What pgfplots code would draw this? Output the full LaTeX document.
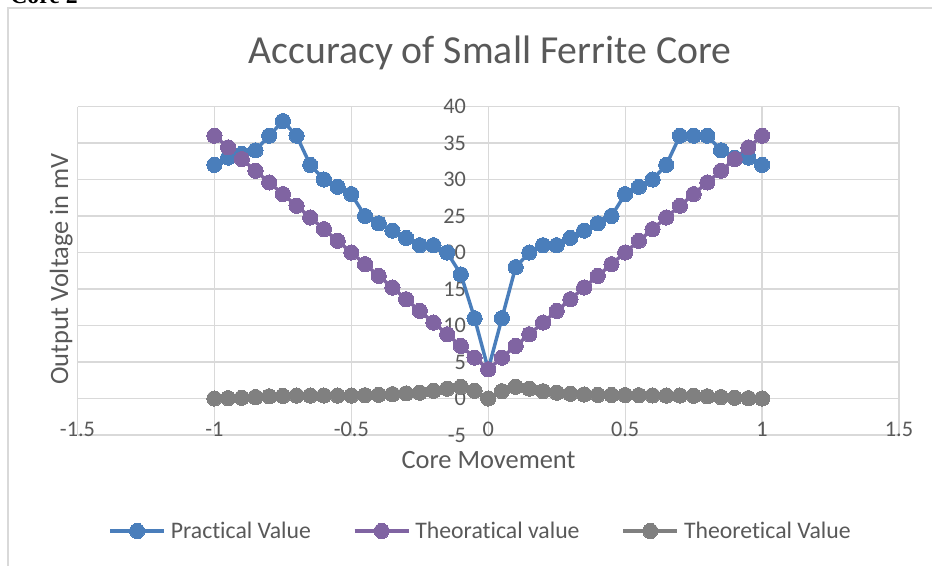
\documentclass[border=0pt]{standalone}
\usepackage{pgfplots}
\usepackage{pgfplotstable}
\pgfplotsset{compat=1.18}
\usepackage{fontspec}
\setmainfont[Ligatures=NoCommon, Contextuals=NoAlternate]{Carlito}
\newfontfamily\timesfont{Liberation Serif}
\definecolor{pblue}{HTML}{4A7EBB}
\definecolor{ppurple}{HTML}{8064A2}
\definecolor{pgray}{HTML}{808080}
\definecolor{gridc}{HTML}{D9D9D9}
\definecolor{txt}{HTML}{595959}

\pgfplotstableread{
x prac theo gray
-1 32 36 0
-0.95 33 34.4 0.05
-0.9 33.5 32.8 0.1
-0.85 34 31.2 0.2
-0.8 36 29.6 0.3
-0.75 38 28 0.35
-0.7 36 26.4 0.4
-0.65 32 24.8 0.4
-0.6 30 23.2 0.4
-0.55 29 21.6 0.4
-0.5 28 20 0.4
-0.45 25 18.4 0.45
-0.4 24 16.8 0.5
-0.35 23 15.2 0.6
-0.3 22 13.6 0.7
-0.25 21 12 0.8
-0.2 21 10.4 1.05
-0.15 20 8.8 1.35
-0.1 17 7.2 1.6
-0.05 11 5.6 1.05
0 4 4 0
0.05 11 5.6 1.0
0.1 18 7.2 1.6
0.15 20 8.8 1.35
0.2 21 10.4 1.0
0.25 21 12 0.8
0.3 22 13.6 0.65
0.35 23 15.2 0.55
0.4 24 16.8 0.5
0.45 25 18.4 0.48
0.5 28 20 0.47
0.55 29 21.6 0.45
0.6 30 23.2 0.42
0.65 32 24.8 0.4
0.7 36 26.4 0.4
0.75 36 28 0.38
0.8 36 29.6 0.3
0.85 34 31.2 0.2
0.9 33 32.8 0.1
0.95 33 34.4 0.05
1 32 36 0
}\datatable

\begin{document}
\begin{tikzpicture}[x=0.75pt,y=0.75pt]
\useasboundingbox (0,0) rectangle (932,565);
\clip (0,0) rectangle (932,565);
\fill[white] (0,0) rectangle (932,565);
\draw[gridc, line width=1pt] (8,-10) -- (8,557) -- (950,557);
\node[anchor=base west, inner sep=0pt, font=\timesfont\bfseries\fontsize{17.8}{20}\selectfont] at (10,561) {Core 2};
\node[anchor=base, inner sep=0pt, text=txt, font=\fontsize{29.8}{32}\selectfont] at (490,501.5) {Accuracy of Small Ferrite Core};
\node[anchor=base, inner sep=0pt, text=txt, font=\fontsize{19.8}{22}\selectfont] at (488.5,97) {Core Movement};
\node[anchor=base, rotate=90, inner sep=0pt, text=txt, font=\fontsize{19.8}{22}\selectfont] at (68,296) {Output Voltage in mV};
\begin{axis}[
  at={(58.125pt,97.5pt)}, anchor=south west,
  scale only axis, width=616.125pt, height=246.375pt,
  xmin=-1.5, xmax=1.5, ymin=-5, ymax=40,
  axis x line=bottom, axis y line=middle,
  axis line style={draw=none,-},
  hide obscured x ticks=false, hide obscured y ticks=false,
  xtick={-1.5,-1,-0.5,0,0.5,1,1.5},
  ytick={-5,0,5,10,15,20,25,30,35,40},
  major tick length=0pt,
  grid=major, major grid style={gridc, line width=1pt},
  /pgf/number format/assume math mode=true,
  tick label style={font=\fontsize{16.7}{18}\selectfont, text=txt},
  xticklabel style={anchor=base, inner sep=0pt, yshift=-0.75pt},
  yticklabel style={anchor=east, inner sep=0pt, xshift=-16.5pt},
  legend columns=3,
  legend style={at={(rel axis cs:0.4924,-0.2922)}, anchor=center, draw=none, fill=none,
    font=\fontsize{17.8}{20}\selectfont, text=txt,
    nodes={inner sep=3.75pt},
    /tikz/every even column/.append style={column sep=27.75pt}},
  legend cell align=left,
  legend image code/.code={\draw[mark repeat=2,mark phase=2] plot coordinates {(0pt,0pt) (20.25pt,0pt) (40.5pt,0pt)};},
  every axis plot/.append style={line width=2.6pt, mark=*, mark size=5.7pt},
]
\addplot[pblue, mark options={fill=pblue, draw=pblue, line width=0pt}] table[x=x,y=prac] {\datatable};
\addlegendentry{Practical Value}
\addplot[ppurple, mark options={fill=ppurple, draw=ppurple, line width=0pt}] table[x=x,y=theo] {\datatable};
\addlegendentry{Theoratical value}
\addplot[pgray, mark options={fill=pgray, draw=pgray, line width=0pt}] table[x=x,y=gray] {\datatable};
\addlegendentry{Theoretical Value}
\end{axis}
\end{tikzpicture}
\end{document}
